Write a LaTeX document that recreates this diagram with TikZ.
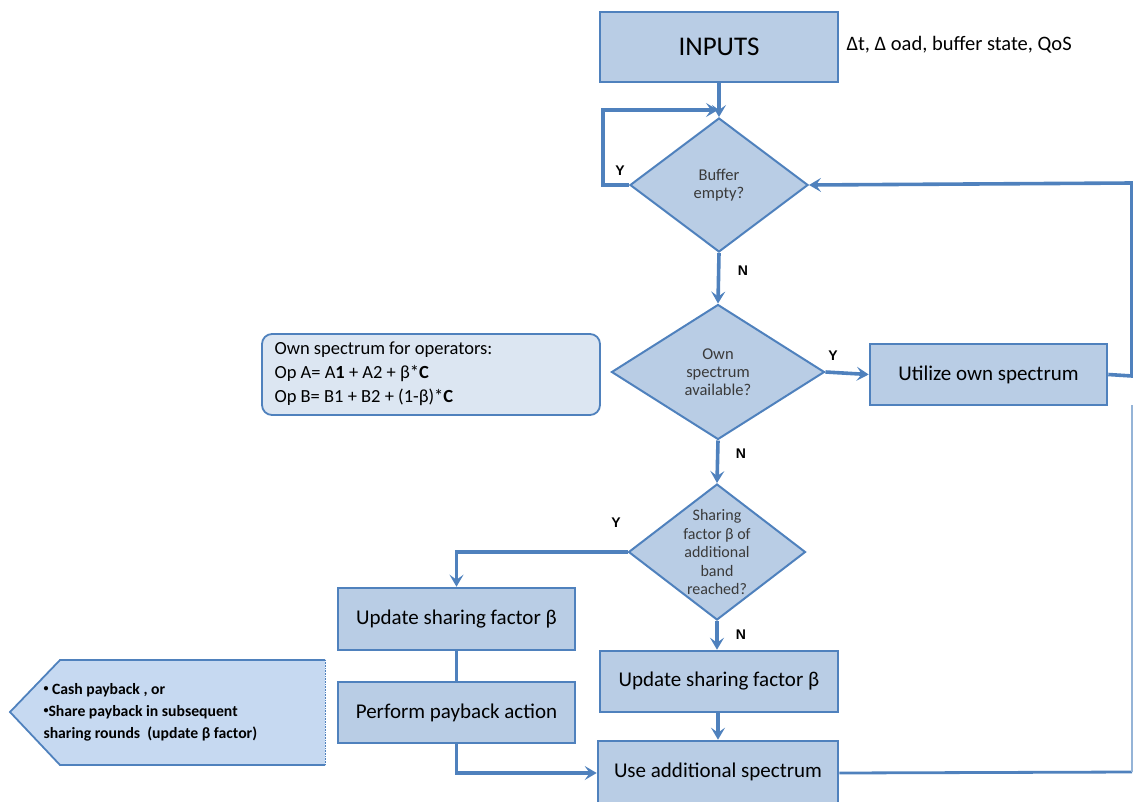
\documentclass[tikz,border=0pt]{standalone}
\usepackage{fontspec}
\setmainfont{Carlito}
\newfontfamily\labelfont{Liberation Sans}
\usetikzlibrary{shapes.geometric,arrows.meta}
\definecolor{edgeblue}{HTML}{4F81BD}
\definecolor{boxfill}{HTML}{B9CDE5}
\definecolor{notefill}{HTML}{DCE6F2}
\definecolor{callfill}{HTML}{C6D9F1}
\definecolor{dtextcol}{HTML}{3A3A3A}
\tikzset{
  procbox/.style={draw=edgeblue, line width=2.6pt, fill=boxfill, minimum width=237pt,
    minimum height=61pt, inner sep=0pt, font=\fontsize{21}{24}\selectfont},
  decision/.style={diamond, draw=edgeblue, line width=2pt, fill=boxfill, inner sep=0pt},
  dtext/.style={align=center, text=dtextcol, font=\fontsize{16.5}{18}\selectfont},
  flow/.style={draw=edgeblue, line width=3.6pt, -{Stealth[length=12pt,width=14pt,inset=5pt]}},
  plainflow/.style={draw=edgeblue, line width=3.6pt},
  yn/.style={font=\labelfont\bfseries\fontsize{14}{16}\selectfont},
}
\begin{document}
\begin{tikzpicture}[x=1pt,y=-1pt]
\useasboundingbox (0,0) rectangle (1133,801);

% process boxes
\node[procbox, minimum width=238pt, minimum height=70pt, font=\fontsize{27}{30}\selectfont] (inputs) at (719,47) {INPUTS};
\node[anchor=west, font=\fontsize{20.5}{24}\selectfont] (inlist) at (843,45) {Δt, Δ oad, buffer state, QoS};

\node[procbox] (util) at (988.5,374.5) {Utilize own spectrum};
\node[procbox, minimum height=62pt] (upd1) at (456.5,619) {Update sharing factor β};
\node[procbox] (pay) at (456.5,712.5) {Perform payback action};
\node[procbox, minimum width=238pt] (upd2) at (719,681.5) {Update sharing factor β};
\node[procbox, minimum width=240pt, minimum height=64pt] (use) at (718,773) {};
\node[font=\fontsize{21}{24}\selectfont] (usetext) at (718,772) {Use additional spectrum};

% decisions
\node[decision, minimum width=178pt, minimum height=134pt] (bd) at (719,185) {};
\node[dtext] (bdtext) at (bd.center) {Buffer\\empty?};
\node[decision, minimum width=213pt, minimum height=135pt] (od) at (718,372) {};
\node[dtext] (odtext) at (od.center) {Own\\spectrum\\available?};
\node[decision, minimum width=177pt, minimum height=136pt] (sd) at (717,552) {};
\node[dtext, font=\fontsize{16}{18.5}\selectfont] (sdtext) at (sd.center) {Sharing\\factor β of\\additional\\band\\reached?};

% note with the spectrum of each operator
\node[draw=edgeblue, line width=1.8pt, fill=notefill, rounded corners=10pt,
      minimum width=338pt, minimum height=81pt] (own) at (431,374.5) {};
\node[anchor=west, align=left, font=\fontsize{18.5}{24}\selectfont] (owntext) at (271,374) {Own spectrum for operators:\\
Op A= A\textbf{1} + A2 + β*\textbf{C}\\
Op B= B1 + B2 + (1-β)*\textbf{C}};

% payback options callout
\coordinate (pa) at (325,660);
\coordinate (pb) at (60,660);
\coordinate (pc) at (10,712);
\coordinate (pd) at (60,765);
\coordinate (pe) at (325,765);
\fill[callfill] (pa) -- (pb) -- (pc) -- (pd) -- (pe) -- cycle;
\draw[edgeblue, line width=1.8pt, line join=miter] (pa) -- (pb) -- (pc) -- (pd) -- (pe);
\draw[edgeblue, line width=0.6pt, densely dotted] (pa) -- (pe);
\newcommand{\smallbul}{\raisebox{2.5pt}{\fontsize{10}{10}\selectfont•}}
\node[anchor=west, align=left, font=\bfseries\fontsize{15.7}{22}\selectfont] (paytext) at (40,712)
  {\smallbul\ Cash payback , or\\\smallbul Share payback in subsequent\\sharing rounds\ \ (update β factor)};

% connectors
\coordinate (loopin) at (718,110);
\draw[flow] (inputs.south -| bd.north) -- (bd.north);
\draw[flow] (bd.west) -- (603,185) -- (603,110) -- (loopin);
\node[yn] (ybd) at (620,171) {Y};

\draw[flow] (bd.south) -- (od.north);
\node[yn] (nbd) at (743,271) {N};

\draw[flow] (od.east) -- (util.west);
\node[yn] (yod) at (833,356) {Y};

\coordinate (rtop) at (1132,183);
\coordinate (rmid) at (1132,376);
\draw[flow] (util.east) -- (rmid) -- (rtop) -- (bd.east);

\draw[flow] (od.south) -- (sd.north);
\node[yn] (nod) at (741,454) {N};

\draw[flow] (sd.west) -- (upd1.north |- sd.west) -- (upd1.north);
\node[yn] (ysd) at (616,523) {Y};

\draw[plainflow] (upd1.south) -- (pay.north);
\draw[flow] (pay.south) -- (pay.south |- use.west) -- (use.west);

\draw[flow] (sd.south) -- (sd.south |- upd2.north);
\node[yn] (nsd) at (741,635) {N};

\draw[flow] (upd2.south -| use.north) -- (use.north);

\coordinate (rbot) at (1132,772);
\coordinate (rend) at (1132,405);
\draw[edgeblue, line width=2.8pt] (use.east) -- (rbot);
\draw[edgeblue!60, line width=1.2pt] (rbot) -- (rend);
\end{tikzpicture}
\end{document}
